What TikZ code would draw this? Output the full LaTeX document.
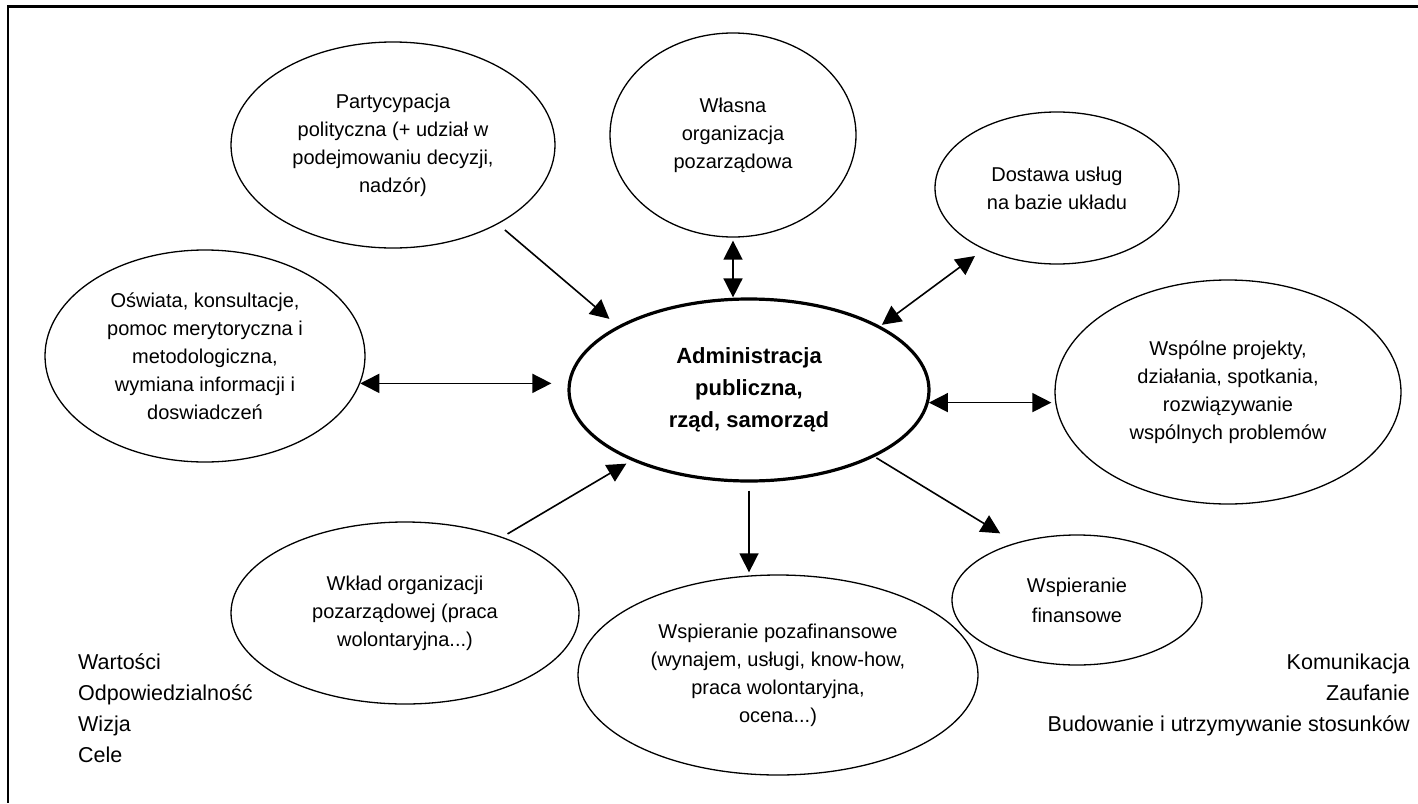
\documentclass[tikz,border=0pt]{standalone}
\usepackage{fontspec}
\setmainfont{Liberation Sans}
\usetikzlibrary{shapes.geometric,arrows.meta}
\begin{document}
\begin{tikzpicture}[x=1pt,y=-1pt,
  bub/.style={ellipse,draw,line width=1.3pt,inner sep=0pt,align=center,
    font=\fontsize{20}{28}\selectfont},
  hub/.style={ellipse,draw,line width=3.2pt,inner sep=0pt,align=center,
    font=\fontsize{22}{32}\selectfont\bfseries},
  arr/.style={line width=1.6pt,-{Triangle[length=19pt,width=19pt]}},
  darr/.style={line width=1.6pt,{Triangle[length=19pt,width=19pt]}-{Triangle[length=19pt,width=19pt]}},
  side/.style={inner sep=0pt,font=\fontsize{21.5}{31}\selectfont}]
\useasboundingbox (0,0) rectangle (1418,803);
% frame (top and left edges)
\draw[line width=2.5pt] (7,6.5) -- (1418,6.5);
\draw[line width=1.5pt] (8,6) -- (8,803);

\node[hub,minimum width=360pt,minimum height=182pt] (A) at (749,390)
  {Administracja\\publiczna,\\rząd, samorząd};
\node[bub,minimum width=324pt,minimum height=206pt] (P) at (393,145)
  {Partycypacja\\polityczna (+ udział w\\podejmowaniu decyzji,\\nadzór)};
\node[bub,minimum width=246pt,minimum height=204pt] (W) at (733,135)
  {Własna\\organizacja\\pozarządowa};
\node[bub,minimum width=244pt,minimum height=152pt] (D) at (1057,188)
  {Dostawa usług\\na bazie układu};
\node[bub,minimum width=320pt,minimum height=212pt] (O) at (205,356)
  {Oświata, konsultacje,\\pomoc merytoryczna i\\metodologiczna,\\wymiana informacji i\\doswiadczeń};
\node[bub,minimum width=346pt,minimum height=224pt] (S) at (1228,392)
  {Wspólne projekty,\\działania, spotkania,\\rozwiązywanie\\wspólnych problemów};
\node[bub,minimum width=348pt,minimum height=182pt] (K) at (405,613)
  {Wkład organizacji\\pozarządowej (praca\\wolontaryjna...)};
\node[bub,minimum width=400pt,minimum height=200pt] (Z) at (778,675)
  {Wspieranie pozafinansowe\\(wynajem, usługi, know-how,\\praca wolontaryjna,\\ocena...)};
\node[bub,minimum width=250pt,minimum height=130pt,
  font=\fontsize{20}{30}\selectfont] (F) at (1077,600)
  {Wspieranie\\finansowe};

\node[side,anchor=west,align=left] (L) at (78,708)
  {Wartości\\Odpowiedzialność\\Wizja\\Cele};
\node[side,anchor=east,align=right] (R) at (1410,695)
  {Komunikacja\\Zaufanie\\Budowanie i utrzymywanie stosunków};

% connectors
\draw[arr,shorten <=9pt,shorten >=11pt] (P.-37.7) -- (A.154.6);
\draw[darr,shorten <=3pt] (W.south) -- (W.south |- A.north);
\draw[darr,shorten <=11pt,shorten >=2pt] (D.220.8) -- (A.26.6);
\draw[darr,shorten >=16pt] (O.-10) -- (O.-10 -| A.west);
\draw[darr,shorten >=3pt] (A.-4) -- (A.-4 -| S.west);
\draw[arr,shorten <=6pt,shorten >=6pt] (K.38.7) -- (A.211.1);
\draw[arr,shorten <=8pt,shorten >=2pt] (A.south) -- (A.south |- Z.north);
\draw[arr,shorten <=2pt,shorten >=18pt] (A.-28.7) -- (F.137.4);
\end{tikzpicture}
\end{document}
